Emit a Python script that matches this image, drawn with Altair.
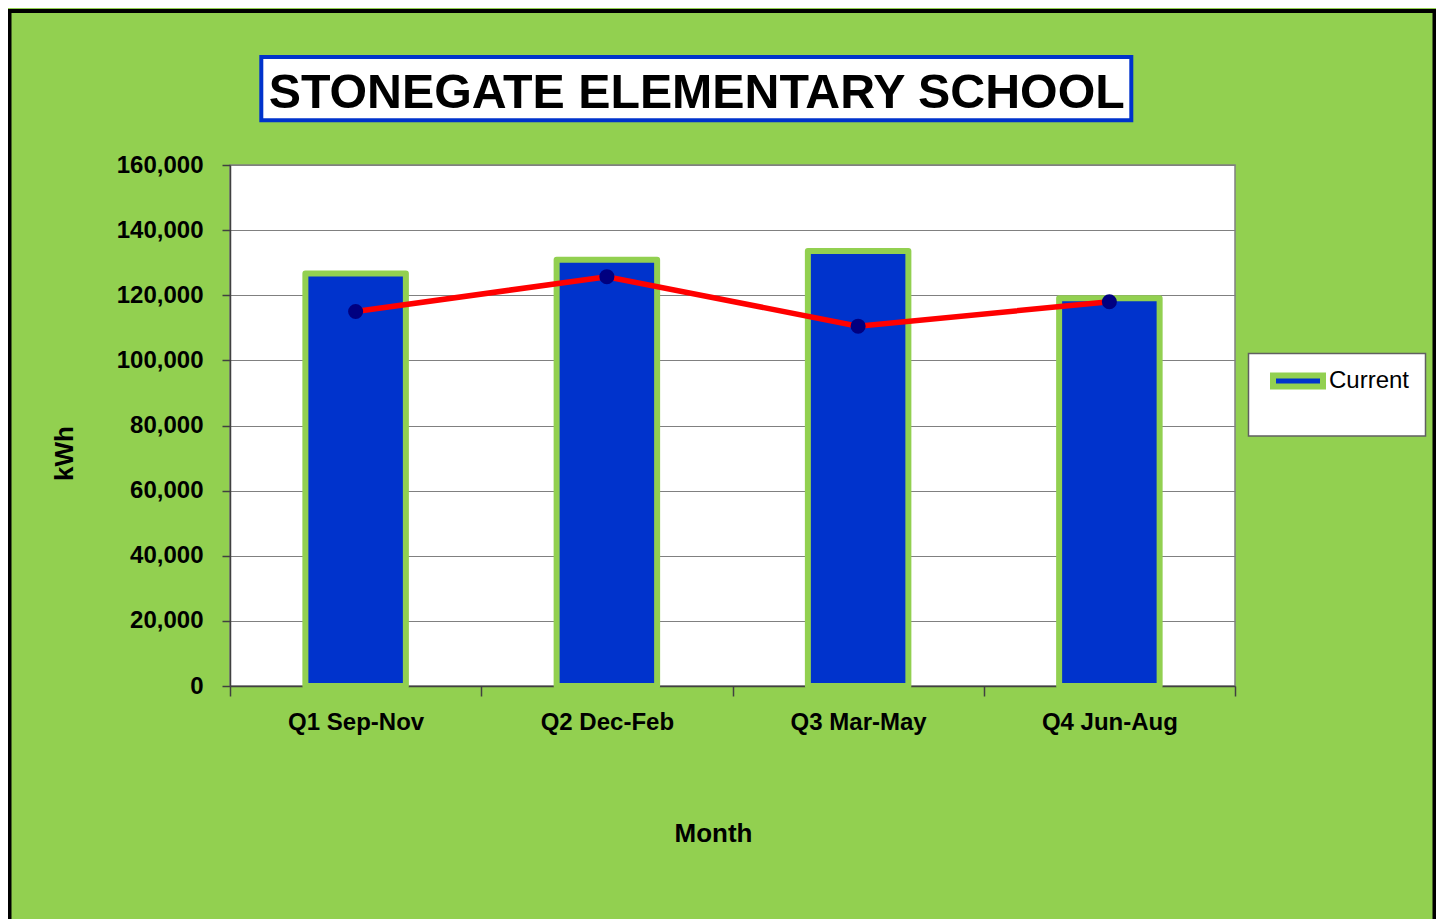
import altair as alt
import pandas as pd

# ---- data ----
quarters = ["Q1 Sep-Nov", "Q2 Dec-Feb", "Q3 Mar-May", "Q4 Jun-Aug"]
current_kwh = [126700, 130900, 133600, 119100]
line_kwh = [115000, 125700, 110500, 118000]
series_name = "Current"
y_ticks = [0, 20000, 40000, 60000, 80000, 100000, 120000, 140000, 160000]
title_text = "STONEGATE ELEMENTARY SCHOOL"
x_title = "Month"
y_title = "kWh"

df = pd.DataFrame({
    "quarter": quarters,
    "current": current_kwh,
    "line": line_kwh,
    "series": [series_name] * len(quarters),
})

ARIAL = "Liberation Sans, Arial, Helvetica, sans-serif"
GREEN = "#92D050"
BLUE = "#0033CC"

x_axis = alt.Axis(
    title=x_title, tickBand="extent", labelAngle=0, labelFont=ARIAL,
    labelFontSize=24, labelFontWeight="bold", labelColor="black",
    labelPadding=14, tickSize=10, tickColor="#404040", tickWidth=1.5,
    domainColor="#404040", domainWidth=1.5, grid=False,
    titleFont=ARIAL, titleFontSize=26, titleFontWeight="bold", titleColor="black",
    titleX=483, titleY=155, titleBaseline="alphabetic", titleAlign="center",
)
y_axis = alt.Axis(
    title=y_title, values=y_ticks, format=",d", labelFont=ARIAL,
    labelFontSize=24, labelFontWeight="bold", labelColor="black",
    labelPadding=19, tickSize=8, tickColor="#404040", tickWidth=1.5,
    domainColor="#404040", domainWidth=1.5,
    grid=True, gridColor="#808080", gridWidth=1,
    titleFont=ARIAL, titleFontSize=26, titleFontWeight="bold", titleColor="black",
    titleX=-158, titleY=288, titleBaseline="alphabetic", titleAlign="center",
    titleAngle=270,
)
x_scale = alt.Scale(type="band", paddingInner=0, paddingOuter=0)
y_scale = alt.Scale(domain=[0, 160000], nice=False)

base = alt.Chart(df)

bars = base.mark_bar(
    stroke=GREEN, strokeWidth=6, strokeJoin="round",
    width=alt.RelativeBandSize(0.4),
).encode(
    x=alt.X("quarter:N", sort=quarters, scale=x_scale, axis=x_axis),
    y=alt.Y("current:Q", scale=y_scale, axis=y_axis),
    color=alt.Color(
        "series:N",
        scale=alt.Scale(domain=[series_name], range=[BLUE]),
        legend=alt.Legend(
            orient="none", legendX=1040, legendY=188, title=None,
            symbolType="M-1,-0.22H1V0.22H-1Z", symbolSize=2500,
            symbolStrokeColor=GREEN, symbolStrokeWidth=6,
            labelFont=ARIAL, labelFontSize=24, labelColor="black",
            labelOffset=3, padding=0,
        ),
    ),
)

line = base.mark_line(color="#FF0000", strokeWidth=5.5).encode(
    x=alt.X("quarter:N", sort=quarters, scale=x_scale, axis=x_axis),
    y=alt.Y("line:Q", scale=y_scale, axis=y_axis),
)
points = base.mark_point(filled=True, size=227, color="#000080", opacity=1).encode(
    x=alt.X("quarter:N", sort=quarters, scale=x_scale, axis=x_axis),
    y=alt.Y("line:Q", scale=y_scale, axis=y_axis),
)

one = alt.Data(values=[{"k": 1}])
frame = alt.Chart(one).mark_rect(fillOpacity=0, stroke="black", strokeWidth=4).encode(
    x=alt.value(-220.5), x2=alt.value(1204.5), y=alt.value(-154), y2=alt.value(800)
)
title_box = alt.Chart(one).mark_rect(fill="white", stroke=BLUE, strokeWidth=4).encode(
    x=alt.value(31.3), x2=alt.value(901.3), y=alt.value(-108), y2=alt.value(-44.7)
)
title_mark = alt.Chart(alt.Data(values=[{"t": title_text}])).mark_text(
    font=ARIAL, fontSize=48.3, fontWeight="bold", color="black",
    align="center", baseline="alphabetic",
).encode(text="t:N", x=alt.value(466.7), y=alt.value(-56.7))
legend_box = alt.Chart(one).mark_rect(fill="white", stroke="#606060", strokeWidth=1.5).encode(
    x=alt.value(1018.5), x2=alt.value(1195.5), y=alt.value(188.5), y2=alt.value(271)
)

chart = alt.layer(
    frame, title_box, title_mark, legend_box, bars, line, points
).properties(
    width=1005, height=521,
    autosize=alt.AutoSizeParams(type="none"),
    padding={"left": 222, "top": 157, "right": 201, "bottom": 233},
    background=GREEN,
).configure_view(
    fill="white", stroke="#808080", strokeWidth=1.5
)

chart.save("out.html", embed_options={"renderer": "svg", "actions": False})
